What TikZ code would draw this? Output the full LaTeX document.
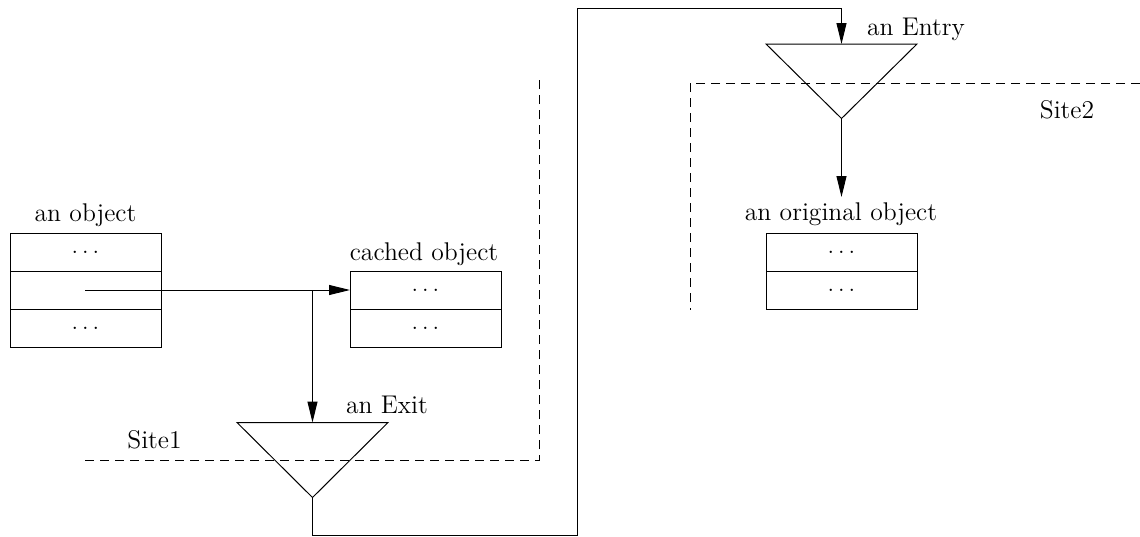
\documentclass[tikz,border=0pt]{standalone}
\usetikzlibrary{arrows.meta}
\begin{document}
\begin{tikzpicture}[x=0.5pt,y=-0.5pt,
  line width=0.5pt,
  every node/.style={font=\fontsize{12.8}{15}\selectfont},
  cell/.style={draw,rectangle,minimum width=75.5pt,minimum height=19pt,inner sep=0pt,outer sep=0pt},
  lbl/.style={anchor=base,inner sep=0pt},
  arr/.style={-{Triangle[length=10.5pt,width=5pt]}},
  sitebound/.style={dash pattern=on 4.5pt off 3pt}]
\useasboundingbox (0,0) rectangle (1140,536);
% an object
\node[cell] (o1) at (85.5,252) {$\ldots$};
\node[cell] (o2) at (85.5,290) {};
\node[cell] (o3) at (85.5,328) {$\ldots$};
\node[lbl] (ol) at (85.5,221.5) {an object};
\coordinate (ostart) at (85,290);
% cached object
\node[cell] (c1) at (425.5,290) {$\ldots$};
\node[cell] (c2) at (425.5,328) {$\ldots$};
\node[lbl] (cl) at (424,260) {cached object};
% original object
\node[cell] (r1) at (841.5,252) {$\ldots$};
\node[cell] (r2) at (841.5,290) {$\ldots$};
\node[lbl] (rl) at (841,220) {an original object};
\coordinate (rtop) at (841.5,197);
% exit triangle
\coordinate (exL) at (237,422.5);
\coordinate (exR) at (388,422.5);
\coordinate (exB) at (312.5,497.5);
\coordinate (exT) at (312.5,422.5);
\draw (exL) -- (exR) -- (exB) -- cycle;
\node[lbl] (exlbl) at (387,413) {an Exit};
% entry triangle
\coordinate (enL) at (766,44);
\coordinate (enR) at (917,44);
\coordinate (enB) at (841.5,118.5);
\coordinate (enT) at (841.5,44);
\draw (enL) -- (enR) -- (enB) -- cycle;
\node[lbl] (enlbl) at (916,35) {an Entry};
% connectors
\coordinate (split) at (312.5,290);
\draw[arr] (ostart) -- (c1.west);
\draw[arr] (split) -- (exT);
\coordinate (b1) at (312.5,535);
\coordinate (b2) at (577,535);
\coordinate (b3) at (577,8);
\coordinate (b4) at (841.5,8);
\draw[arr] (exB) -- (b1) -- (b2) -- (b3) -- (b4) -- (enT);
\draw[arr] (enB) -- (rtop);
% site boundaries
\coordinate (s1a) at (85,460);
\coordinate (s1b) at (539,460);
\coordinate (s1c) at (539,80);
\draw[sitebound] (s1a) -- (s1b) -- (s1c);
\node[lbl] (s1l) at (154.5,448) {Site1};
\coordinate (s2a) at (1140,83);
\coordinate (s2b) at (690,83);
\coordinate (s2c) at (690,310);
\draw[sitebound] (s2a) -- (s2b) -- (s2c);
\node[lbl] (s2l) at (1067,118) {Site2};
\end{tikzpicture}
\end{document}
